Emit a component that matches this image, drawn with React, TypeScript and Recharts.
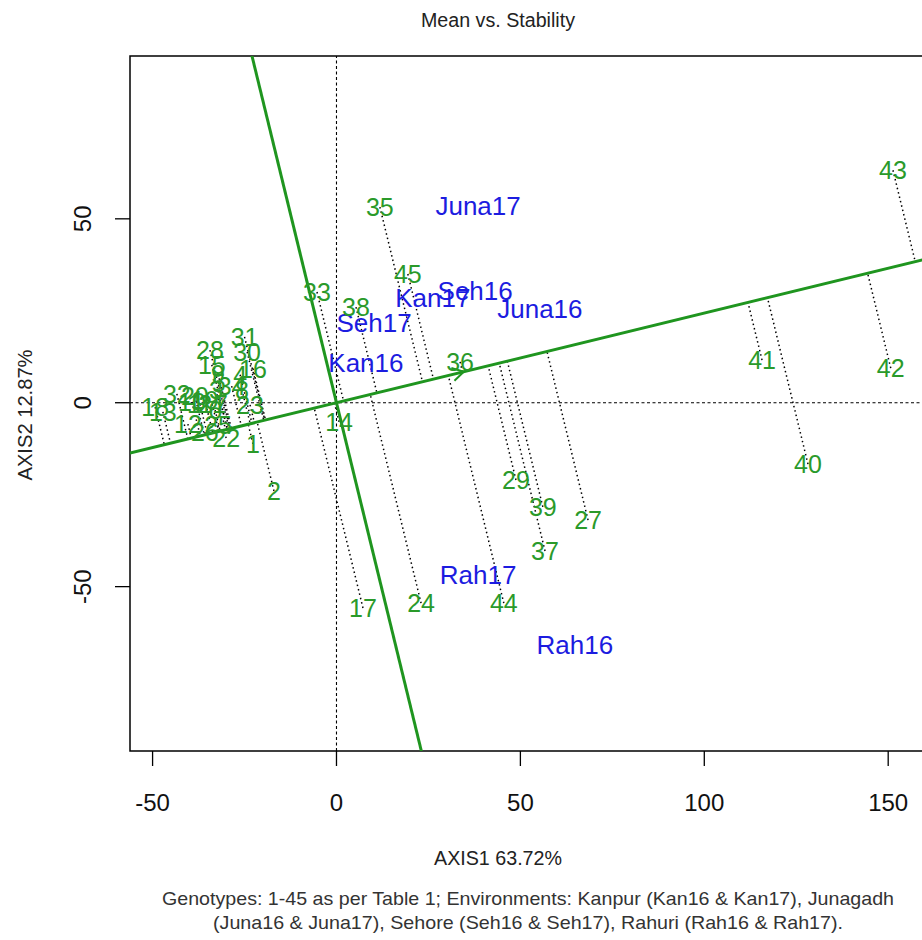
import React from 'react';
import {
  ScatterChart,
  Scatter,
  XAxis,
  YAxis,
  ReferenceLine,
  ReferenceArea,
  ReferenceDot,
} from 'recharts';

// genotype scores (PC1 / PC2)
const genotypes = [
  '1', '2', '3', '4', '5', '6', '7', '8', '9', '10',
  '11', '12', '13', '14', '15', '16', '17', '18', '19', '20',
  '21', '22', '23', '24', '25', '26', '27', '28', '29', '30',
  '31', '32', '33', '34', '35', '36', '37', '38', '39', '40',
  '41', '42', '43', '44', '45',
];
const genoAxis1 = [
  -22.7, -17.0, -32.8, -26.2, -32.0, -33.0, -31.4, -25.7, -32.2, -39.3,
  -37.1, -40.4, -47.2, 0.7, -33.9, -22.7, 7.2, -49.3, -35.8, -38.5,
  -33.8, -30.0, -23.5, 23.0, -32.2, -35.8, 68.4, -34.4, 48.8, -24.3,
  -25.0, -43.4, -5.3, -28.5, 11.8, 33.6, 56.7, 5.3, 56.1, 128.2,
  115.7, 150.7, 151.3, 45.5, 19.4,
];
const genoAxis2 = [
  -11.2, -24.0, 3.5, 7.6, 5.4, -2.0, -0.4, 3.5, 7.8, 0.2,
  -0.4, -5.8, -2.5, -5.2, 10.3, 9.3, -55.8, -1.2, 0.7, 1.8,
  -0.4, -9.6, -0.6, -54.5, -6.1, -8.0, -31.9, 14.3, -21.0, 13.8,
  17.9, 2.4, 30.1, 4.5, 53.2, 11.1, -40.3, 26.0, -28.3, -16.7,
  11.6, 9.4, 63.2, -54.5, 35.0,
];

// environment scores
const environments = ['Juna17', 'Seh16', 'Kan17', 'Juna16', 'Seh17', 'Kan16', 'Rah17', 'Rah16'];
const envAxis1 = [38.5, 37.7, 26.2, 55.3, 10.2, 8.0, 38.5, 64.8];
const envAxis2 = [53.7, 30.6, 28.7, 25.7, 21.7, 10.8, -46.8, -65.9];

// slope of the average-environment (ATC) abscissa
const atcSlope = 0.2437;

const xTicks = [-50, 0, 50, 100, 150];
const yTicks = [-50, 0, 50];

const X_DOMAIN: [number, number] = [-56.14, 160.28];
const Y_DOMAIN: [number, number] = [-94.69, 94.27];

const GREEN_LINE = '#1f951f';
const GREEN_TEXT = '#2a9a2a';
const BLUE_TEXT = '#1c1ce0';
const FONT = '"Liberation Sans", Arial, sans-serif';

const genoData = genotypes.map((name, i) => ({ name, x: genoAxis1[i], y: genoAxis2[i] }));
const envData = environments.map((name, i) => ({ name, x: envAxis1[i], y: envAxis2[i] }));

const project = (x: number, y: number) => {
  const t = (x + atcSlope * y) / (1 + atcSlope * atcSlope);
  return { x: t, y: atcSlope * t };
};

const avgEnv = project(
  envAxis1.reduce((s, v) => s + v, 0) / envAxis1.length,
  envAxis2.reduce((s, v) => s + v, 0) / envAxis2.length
);

const ArrowHead = (props: any) => {
  const { cx, cy } = props;
  const back = Math.atan2(-atcSlope, 1) + Math.PI;
  const len = 13;
  const a1 = back - Math.PI / 6;
  const a2 = back + Math.PI / 6;
  const d = `M${cx + len * Math.cos(a1)},${cy + len * Math.sin(a1)} L${cx},${cy} L${cx + len * Math.cos(a2)},${cy + len * Math.sin(a2)}`;
  return <path d={d} stroke={GREEN_LINE} strokeWidth={2} fill="none" />;
};

const XTick = (props: any) => (
  <text x={props.x} y={811} textAnchor="middle" fontSize={24} fill="#111" fontFamily={FONT}>
    {props.payload.value}
  </text>
);

const YTick = (props: any) => (
  <text
    x={82}
    y={props.y}
    dy="0.36em"
    transform={`rotate(-90, 82, ${props.y})`}
    textAnchor="middle"
    fontSize={24}
    fill="#111"
    fontFamily={FONT}
  >
    {props.payload.value}
  </text>
);

export default function App() {
  return (
    <div
      style={{
        position: 'absolute',
        left: 0,
        top: 0,
        width: 922,
        height: 940,
        overflow: 'hidden',
        background: '#fff',
        fontFamily: FONT,
      }}
    >
      <ScatterChart width={930} height={940} margin={{ top: 56, right: 4, bottom: 129, left: 0 }}>
        <XAxis
          type="number"
          dataKey="x"
          domain={X_DOMAIN}
          allowDataOverflow
          ticks={xTicks}
          axisLine={false}
          tickSize={15}
          tickLine={{ stroke: '#000', strokeWidth: 1.3 }}
          tick={<XTick />}
          height={60}
        />
        <YAxis
          type="number"
          dataKey="y"
          domain={Y_DOMAIN}
          allowDataOverflow
          ticks={yTicks}
          axisLine={false}
          tickSize={15}
          tickLine={{ stroke: '#000', strokeWidth: 1.3 }}
          tick={<YTick />}
          width={130}
        />
        <ReferenceArea
          x1={X_DOMAIN[0]}
          x2={X_DOMAIN[1]}
          y1={Y_DOMAIN[0]}
          y2={Y_DOMAIN[1]}
          fill="none"
          fillOpacity={0}
          stroke="#000"
          strokeWidth={1.5}
        />
        <ReferenceLine x={0} stroke="#000" strokeWidth={1.1} strokeDasharray="3 2.5" />
        <ReferenceLine y={0} stroke="#000" strokeWidth={1.1} strokeDasharray="3 2.5" />
        {genoData.map((g) => {
          const f = project(g.x, g.y);
          return (
            <ReferenceLine
              key={`p${g.name}`}
              segment={[{ x: g.x, y: g.y }, { x: f.x, y: f.y }]}
              stroke="#000"
              strokeWidth={1.5}
              strokeDasharray="1.5 3"
              ifOverflow="hidden"
            />
          );
        })}
        <ReferenceLine
          segment={[
            { x: X_DOMAIN[0], y: atcSlope * X_DOMAIN[0] },
            { x: X_DOMAIN[1], y: atcSlope * X_DOMAIN[1] },
          ]}
          stroke={GREEN_LINE}
          strokeWidth={3}
          ifOverflow="hidden"
        />
        <ReferenceLine
          segment={[
            { x: -atcSlope * Y_DOMAIN[1], y: Y_DOMAIN[1] },
            { x: -atcSlope * Y_DOMAIN[0], y: Y_DOMAIN[0] },
          ]}
          stroke={GREEN_LINE}
          strokeWidth={3}
          ifOverflow="hidden"
        />
        <ReferenceDot x={avgEnv.x} y={avgEnv.y} shape={<ArrowHead />} ifOverflow="hidden" />
        <Scatter
          data={envData}
          isAnimationActive={false}
          shape={(p: any) => (
            <text
              x={p.cx}
              y={p.cy}
              dy="0.36em"
              textAnchor="middle"
              fontSize={26}
              fill={BLUE_TEXT}
              fontFamily={FONT}
            >
              {p.payload.name}
            </text>
          )}
        />
        <Scatter
          data={genoData}
          isAnimationActive={false}
          shape={(p: any) => (
            <text
              x={p.cx}
              y={p.cy}
              dy="0.36em"
              textAnchor="middle"
              fontSize={25}
              fill={GREEN_TEXT}
              fontFamily={FONT}
            >
              {p.payload.name}
            </text>
          )}
        />
      </ScatterChart>
      <svg
        width={922}
        height={940}
        style={{ position: 'absolute', left: 0, top: 0, pointerEvents: 'none' }}
      >
        <text x={498} y={27} textAnchor="middle" fontSize={20} fill="#222" textLength={154} lengthAdjust="spacingAndGlyphs">
          Mean vs. Stability
        </text>
        <text x={498} y={865} textAnchor="middle" fontSize={20} fill="#222" textLength={128} lengthAdjust="spacingAndGlyphs">
          AXIS1 63.72%
        </text>
        <text
          x={25}
          y={415}
          dy="0.36em"
          transform="rotate(-90, 25, 415)"
          textAnchor="middle"
          fontSize={20}
          fill="#222"
          textLength={131}
          lengthAdjust="spacingAndGlyphs"
        >
          AXIS2 12.87%
        </text>
        <text x={528} y={905} textAnchor="middle" fontSize={19} fill="#333" textLength={732} lengthAdjust="spacingAndGlyphs">
          Genotypes: 1-45 as per Table 1; Environments: Kanpur (Kan16 &amp; Kan17), Junagadh
        </text>
        <text x={528} y={929} textAnchor="middle" fontSize={19} fill="#333" textLength={630} lengthAdjust="spacingAndGlyphs">
          (Juna16 &amp; Juna17), Sehore (Seh16 &amp; Seh17), Rahuri (Rah16 &amp; Rah17).
        </text>
      </svg>
    </div>
  );
}
